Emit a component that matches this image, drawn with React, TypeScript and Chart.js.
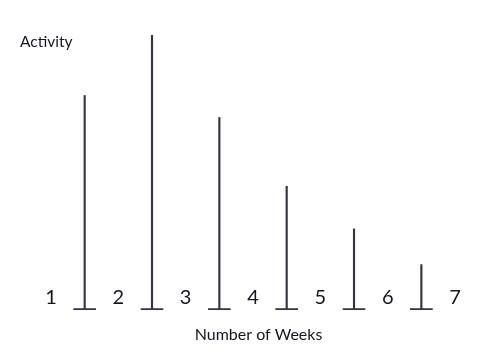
import React, { useEffect, useRef } from "react";
import { Chart, registerables } from "chart.js";

Chart.register(...registerables);

const tickLabels = ["1", "2", "3", "4", "5", "6", "7"];
const activity = [78, 100, 70, 45, 29.5, 16.5];
const yTitle = "Activity";
const xTitle = "Number of Weeks";

const ink = "#343442";
const textColor = "#16161f";

export default function App() {
  const ref = useRef<HTMLCanvasElement | null>(null);

  useEffect(() => {
    if (!ref.current) return;
    const points = activity.map((v, i) => ({ x: i + 1.5, y: v }));
    const chart = new Chart(ref.current, {
      type: "bar",
      data: {
        datasets: [
          {
            data: points,
            backgroundColor: ink,
            barThickness: 1.5,
            grouped: false,
            borderWidth: 0,
          } as any,
          {
            data: points,
            backgroundColor: "rgba(0,0,0,0)",
            borderColor: ink,
            borderWidth: { top: 0, left: 0, right: 0, bottom: 1.5 },
            borderSkipped: false,
            barThickness: 23,
            grouped: false,
          } as any,
        ],
      },
      options: {
        animation: false,
        responsive: true,
        maintainAspectRatio: false,
        layout: { padding: { left: 12, right: 9, top: 0, bottom: 0 } },
        plugins: {
          legend: { display: false },
          tooltip: { enabled: false },
          title: {
            display: true,
            text: yTitle,
            align: "start",
            color: textColor,
            font: { family: "Lato", size: 15.5, weight: "normal" },
            padding: { top: 25, bottom: -16.6 },
          },
        },
        scales: {
          x: {
            type: "linear",
            min: 1,
            max: 7.163,
            offset: false,
            grid: { display: false, drawTicks: true, tickLength: -38, offset: false },
            border: { display: false },
            afterBuildTicks: (scale: any) => {
              scale.ticks = tickLabels.map((_, i) => ({ value: i + 1 }));
            },
            ticks: {
              mirror: true,
              padding: 0,
              color: textColor,
              font: { family: "Lato", size: 20 },
              maxRotation: 0,
              autoSkip: false,
              callback: (v: any) => tickLabels[Math.round(Number(v)) - 1] ?? "",
            },
            title: {
              display: true,
              text: xTitle,
              color: textColor,
              font: { family: "Lato", size: 16 },
              padding: { top: 52.8, bottom: 1 },
            },
          },
          y: {
            min: 0,
            max: 100,
            grid: { display: false, drawTicks: false },
            border: { display: false },
            ticks: { display: false },
            afterFit: (scale: any) => {
              scale.width = 31;
            },
          },
        },
      },
    });
    return () => chart.destroy();
  }, []);

  return (
    <div style={{ width: 467, height: 337, position: "relative" }}>
      <canvas ref={ref} />
    </div>
  );
}
